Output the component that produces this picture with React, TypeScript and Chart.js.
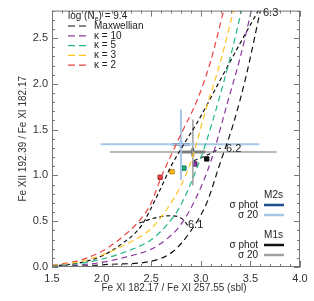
import React, { useEffect, useRef } from "react";
import { Chart, registerables } from "chart.js";
Chart.register(...registerables);

// ---- data ----
const redX = [1.5, 1.75, 2.0, 2.2, 2.4, 2.5, 2.6, 2.7, 2.8, 2.97, 3.1, 3.23];
const redY = [0.02, 0.065, 0.17, 0.32, 0.53, 0.7, 0.98, 1.22, 1.45, 1.84, 2.25, 2.8];
const yellowX = [1.5, 1.75, 2.0, 2.25, 2.49, 2.65, 2.79, 2.9, 3.06, 3.2, 3.33];
const yellowY = [0.015, 0.05, 0.13, 0.25, 0.41, 0.62, 0.87, 1.15, 1.75, 2.25, 2.8];
const greenX = [1.5, 1.75, 2.0, 2.25, 2.49, 2.65, 2.79, 2.95, 3.05, 3.18, 3.3, 3.41];
const greenY = [0.01, 0.035, 0.085, 0.17, 0.29, 0.45, 0.66, 1.05, 1.35, 1.82, 2.3, 2.8];
const purpleX = [1.5, 1.75, 2.0, 2.25, 2.49, 2.65, 2.79, 2.95, 3.1, 3.26, 3.4, 3.51];
const purpleY = [0.005, 0.02, 0.05, 0.11, 0.19, 0.3, 0.45, 0.75, 1.15, 1.76, 2.3, 2.8];
const maxwX = [1.5, 1.8, 2.1, 2.49, 2.72, 2.89, 3.06, 3.19, 3.33, 3.46, 3.6];
const maxwY = [0.0, 0.01, 0.03, 0.06, 0.17, 0.38, 0.7, 1.12, 1.57, 2.1, 2.8];
const longX = [1.5, 1.8, 2.0, 2.2, 2.4, 2.57, 2.7, 2.84, 2.96, 3.2, 3.4, 3.58];
const longY = [0.01, 0.05, 0.12, 0.25, 0.45, 0.8, 1.1, 1.36, 1.57, 2.05, 2.45, 2.8];
const iso61X = [2.38, 2.55, 2.7, 2.82, 2.87];
const iso61Y = [0.48, 0.54, 0.56, 0.52, 0.45];
const iso62X = [2.93, 3.06, 3.2];
const iso62Y = [1.16, 1.22, 1.3];

const markX = [2.59, 2.71, 2.83, 2.94, 3.06];
const markY = [0.98, 1.04, 1.08, 1.125, 1.18];

// M2s: center, phot errors, sigma-20 errors
const m2sC = [2.8, 1.34];
const m2sPhot = [0.09, 0.035];
const m2s20X = [1.99, 3.59];
const m2s20Y = [0.95, 1.72];
// M1s
const m1sC = [2.92, 1.255];
const m1sPhot = [0.125, 0.045];
const m1s20X = [2.085, 3.765];
const m1s20Y = [0.89, 1.61];

const xTicks = [1.5, 2.0, 2.5, 3.0, 3.5, 4.0];
const yTicks = [0.0, 0.5, 1.0, 1.5, 2.0, 2.5];
const xTitle = "Fe XI 182.17 / Fe XI 257.55 (sbl)";
const yTitle = "Fe XII 192.39 / Fe XI 182.17";

const C_RED = "#ee4444";
const C_YEL = "#ffc21e";
const C_GRN = "#22b585";
const C_PUR = "#8a3a9e";
const C_BLK = "#111111";
const C_DBLUE = "#1d4f8c";
const C_LBLUE = "#a7c7e7";
const C_GRAY = "#a0a0a0";

const FONT = "'Liberation Sans', Arial, sans-serif";

function pts(xs: number[], ys: number[]) {
  return xs.map((x, i) => ({ x, y: ys[i] }));
}

function curve(xs: number[], ys: number[], color: string, dash = [6, 4]) {
  return {
    data: pts(xs, ys),
    showLine: true,
    borderColor: color,
    borderWidth: 1.2,
    borderDash: dash,
    pointRadius: 0,
    cubicInterpolationMode: "monotone",
  } as any;
}

function seg(x1: number, y1: number, x2: number, y2: number, color: string, w: number) {
  return {
    data: [{ x: x1, y: y1 }, { x: x2, y: y2 }],
    showLine: true,
    borderColor: color,
    borderWidth: w,
    pointRadius: 0,
  } as any;
}

const framePlugin = {
  id: "frame",
  afterDraw(chart: any) {
    const { ctx, chartArea: a, scales } = chart;
    const xs = scales.x, ys = scales.y;
    ctx.save();
    ctx.strokeStyle = "#777";
    ctx.lineWidth = 1;
    ctx.strokeRect(a.left + 0.5, a.top + 0.5, a.right - a.left - 1, a.bottom - a.top - 1);
    ctx.beginPath();
    for (let i = 0; i <= 25; i++) {
      const v = 1.5 + i * 0.1;
      const px = Math.round(xs.getPixelForValue(v)) + 0.5;
      const len = i % 5 === 0 ? 6 : 3;
      ctx.moveTo(px, a.bottom); ctx.lineTo(px, a.bottom - len);
      ctx.moveTo(px, a.top); ctx.lineTo(px, a.top + len);
    }
    for (let i = 0; i <= 28; i++) {
      const v = i * 0.1;
      const py = Math.round(ys.getPixelForValue(v)) + 0.5;
      const len = i % 5 === 0 ? 6 : 3;
      ctx.moveTo(a.left, py); ctx.lineTo(a.left + len, py);
      ctx.moveTo(a.right, py); ctx.lineTo(a.right - len, py);
    }
    ctx.stroke();

    // axis titles
    ctx.fillStyle = "#333";
    ctx.font = `10px ${FONT}`;
    ctx.textAlign = "center";
    ctx.textBaseline = "middle";
    ctx.fillText(xTitle, (a.left + a.right) / 2 - 2, 288);
    ctx.save();
    ctx.translate(23, (a.top + a.bottom) / 2);
    ctx.rotate(-Math.PI / 2);
    ctx.fillText(yTitle, 0, 0);
    ctx.restore();

    // legend top-left
    ctx.fillStyle = "#222";
    ctx.textBaseline = "middle";
    ctx.font = `10px ${FONT}`;
    ctx.textAlign = "left";
    const x0 = 68;
    ctx.fillText("log (N", x0, 16);
    const w = ctx.measureText("log (N").width;
    ctx.font = `7px ${FONT}`;
    ctx.fillText("e", x0 + w, 19);
    const we = ctx.measureText("e").width;
    ctx.font = `10px ${FONT}`;
    ctx.fillText(") = 9.4", x0 + w + we, 16);
    const rows: [string, string][] = [
      ["Maxwellian", C_BLK],
      ["\u03BA = 10", C_PUR],
      ["\u03BA = 5", C_GRN],
      ["\u03BA = 3", C_YEL],
      ["\u03BA = 2", C_RED],
    ];
    rows.forEach(([t, c], i) => {
      const y = 26 + i * 9.8;
      ctx.strokeStyle = c;
      ctx.lineWidth = 1.2;
      ctx.setLineDash([7, 4]);
      ctx.beginPath();
      ctx.moveTo(68, y); ctx.lineTo(88, y);
      ctx.stroke();
      ctx.setLineDash([]);
      ctx.fillStyle = "#222";
      ctx.fillText(t, 94, y);
    });

    // isotherm labels
    ctx.font = `11px ${FONT}`;
    ctx.fillText("6.3", 263, 13);
    ctx.fillText("6.2", 226, 149);
    ctx.fillText("6.1", 188, 225);

    // lower-right legend
    ctx.font = `10px ${FONT}`;
    ctx.textAlign = "right";
    const lg: [string, number, string | null][] = [
      ["M2s", 195, null],
      ["\u03C3 phot", 205, C_DBLUE],
      ["\u03C3 20", 215, C_LBLUE],
      ["M1s", 235, null],
      ["\u03C3 phot", 245, C_BLK],
      ["\u03C3 20", 255, C_GRAY],
    ];
    lg.forEach(([t, y, c]) => {
      ctx.fillStyle = "#222";
      if (c === null) {
        ctx.fillText(t, 283, y);
      } else {
        ctx.fillText(t, 258, y);
        ctx.strokeStyle = c;
        ctx.lineWidth = 2.5;
        ctx.beginPath();
        ctx.moveTo(264, y); ctx.lineTo(284, y);
        ctx.stroke();
      }
    });
    ctx.restore();
  },
};

export default function App() {
  const ref = useRef<HTMLCanvasElement>(null);
  useEffect(() => {
    const datasets: any[] = [
      curve(maxwX, maxwY, C_BLK),
      curve(purpleX, purpleY, C_PUR),
      curve(greenX, greenY, C_GRN),
      curve(yellowX, yellowY, C_YEL),
      curve(redX, redY, C_RED),
      curve(longX, longY, C_BLK, [4, 3]),
      curve(iso61X, iso61Y, C_BLK, [4, 3]),
      curve(iso62X, iso62Y, C_BLK, [4, 3]),
      // sigma-20 bars
      seg(m2s20X[0], m2sC[1], m2s20X[1], m2sC[1], C_LBLUE, 2),
      seg(m2sC[0], m2s20Y[0], m2sC[0], m2s20Y[1], C_LBLUE, 2),
      seg(m1s20X[0], m1sC[1], m1s20X[1], m1sC[1], C_GRAY, 1.5),
      seg(m1sC[0], m1s20Y[0], m1sC[0], m1s20Y[1], C_GRAY, 1.5),
      // phot bars
      seg(m2sC[0] - m2sPhot[0], m2sC[1], m2sC[0] + m2sPhot[0], m2sC[1], C_DBLUE, 2.5),
      seg(m2sC[0], m2sC[1] - m2sPhot[1], m2sC[0], m2sC[1] + m2sPhot[1], C_DBLUE, 2.5),
      seg(m1sC[0] - m1sPhot[0], m1sC[1], m1sC[0] + m1sPhot[0], m1sC[1], C_BLK, 2.5),
      seg(m1sC[0], m1sC[1] - m1sPhot[1], m1sC[0], m1sC[1] + m1sPhot[1], C_BLK, 2.5),
      {
        data: pts(markX, markY),
        showLine: false,
        pointStyle: "rect",
        pointRadius: 3,
        pointBackgroundColor: [C_RED, C_YEL, C_GRN, C_PUR, C_BLK],
        pointBorderColor: ["#a02020", "#c08000", "#107050", "#501060", "#000"],
        pointBorderWidth: 1,
      },
    ];
    const chart = new Chart(ref.current!, {
      type: "scatter",
      data: { datasets },
      plugins: [framePlugin],
      options: {
        animation: false,
        responsive: false,
        layout: { padding: { top: 1, right: 14, left: 0, bottom: 0 } },
        plugins: { legend: { display: false }, tooltip: { enabled: false } },
        scales: {
          x: {
            type: "linear",
            min: 1.5,
            max: 4.0,
            afterBuildTicks: (s: any) => { s.ticks = xTicks.map((v) => ({ value: v })); },
            afterFit: (s: any) => { s.height = 34; },
            grid: { display: false, drawTicks: false },
            border: { display: false },
            ticks: {
              padding: 5,
              color: "#333",
              font: { family: FONT, size: 11 },
              maxRotation: 0,
              callback: (v: any) => Number(v).toFixed(1),
            },
          },
          y: {
            type: "linear",
            min: 0,
            max: 2.8,
            afterBuildTicks: (s: any) => { s.ticks = yTicks.map((v) => ({ value: v })); },
            afterFit: (s: any) => { s.width = 52; },
            grid: { display: false, drawTicks: false },
            border: { display: false },
            ticks: {
              padding: 4,
              color: "#333",
              font: { family: FONT, size: 11 },
              callback: (v: any) => Number(v).toFixed(1),
            },
          },
        },
      } as any,
    });
    return () => chart.destroy();
  }, []);
  return (
    <div style={{ position: "fixed", left: 0, top: 0, width: 314, height: 301, background: "#fff" }}>
      <canvas ref={ref} width={314} height={301} style={{ display: "block" }} />
    </div>
  );
}
